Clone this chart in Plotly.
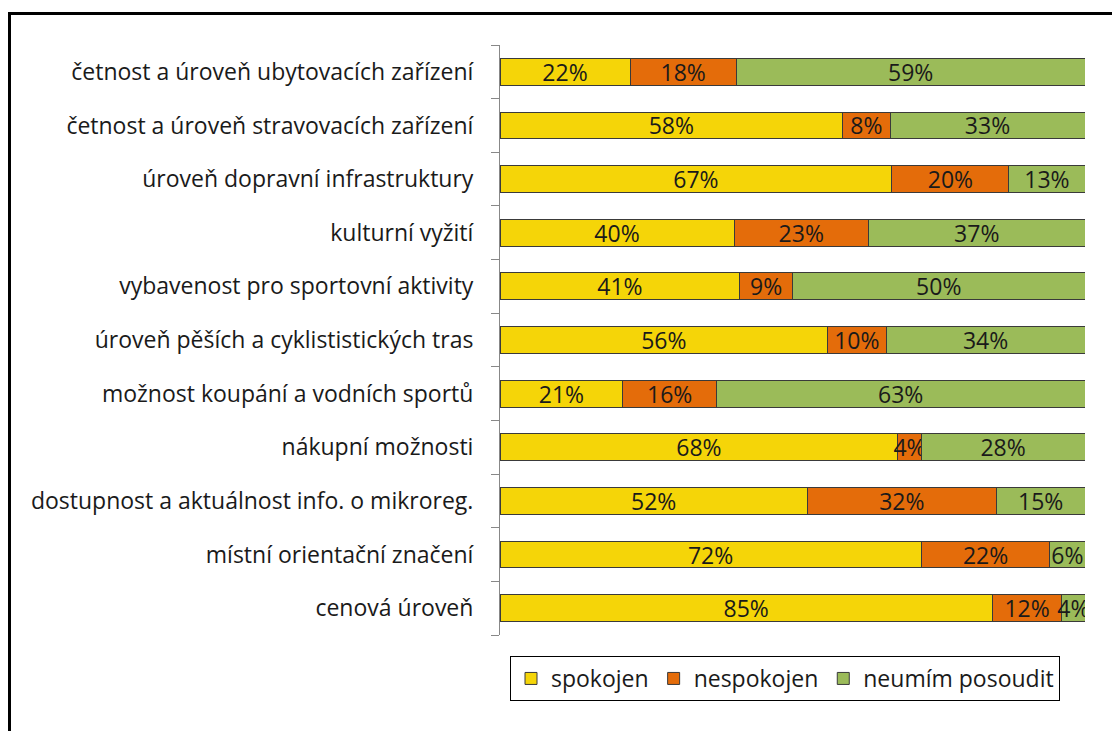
import plotly.graph_objects as go

categories = [
    "četnost a úroveň ubytovacích zařízení",
    "četnost a úroveň stravovacích zařízení",
    "úroveň dopravní infrastruktury",
    "kulturní vyžití",
    "vybavenost pro sportovní aktivity",
    "úroveň pěších a cyklististických tras",
    "možnost koupání a vodních sportů",
    "nákupní možnosti",
    "dostupnost a aktuálnost info. o mikroreg.",
    "místní orientační značení",
    "cenová úroveň",
]
spokojen = [22, 58, 67, 40, 41, 56, 21, 68, 52, 72, 85]
nespokojen = [18, 8, 20, 23, 9, 10, 16, 4, 32, 22, 12]
neumim = [59, 33, 13, 37, 50, 34, 63, 28, 15, 6, 4]

series = [
    ("spokojen", spokojen, "#F5D508"),
    ("nespokojen", nespokojen, "#E46C0A"),
    ("neumím posoudit", neumim, "#9BBB59"),
]

FONT = "Open Sans"
FS = 23
ypos = list(range(len(categories)))

# plot area in figure pixels (page has 8px body margin)
L, R, T, B = 492, 1077, 37, 627
W, H = 1120, 731
pw, ph = R - L, B - T

def px(x):
    return (x - L) / pw

def py(y):
    return (B - y) / ph

fig = go.Figure()
for name, vals, color in series:
    fig.add_trace(go.Bar(
        y=ypos, x=vals, name=name, orientation="h",
        marker=dict(color=color, line=dict(color="#3A3A3A", width=1)),
        text=[f"{v}%" for v in vals],
        textposition="inside", insidetextanchor="middle",
        constraintext="none", textangle=0,
        insidetextfont=dict(family=FONT, size=FS, color="#1a1a1a"),
        hoverinfo="skip",
    ))

fig.update_layout(
    barmode="stack", barnorm="percent", bargap=0.5,
    width=W, height=H,
    margin=dict(l=L, r=W - R, t=T, b=H - B),
    paper_bgcolor="white", plot_bgcolor="white",
    font=dict(family=FONT, size=FS, color="#1a1a1a"),
    showlegend=True,
    legend=dict(
        orientation="h", x=px(502), xanchor="left", y=py(648), yanchor="top",
        bordercolor="black", borderwidth=1,
        font=dict(family=FONT, size=FS, color="#1a1a1a"),
        traceorder="normal", itemwidth=30,
    ),
    xaxis=dict(visible=False, range=[0, 100], fixedrange=True),
    yaxis=dict(
        range=[len(categories) - 0.5, -0.5],
        tickmode="array", tickvals=ypos, ticktext=categories,
        ticks="", showline=True, linecolor="#888888", linewidth=1,
        showgrid=False, zeroline=False, ticklabelstandoff=21,
        minor=dict(tickmode="array",
                   tickvals=[i - 0.5 for i in range(len(categories) + 1)],
                   ticks="outside", ticklen=8, tickcolor="#888888", showgrid=False),
    ),
    shapes=[
        dict(type="line", xref="paper", yref="paper",
             x0=px(1.5), x1=px(1.5), y0=py(4), y1=py(760),
             line=dict(color="black", width=3)),
        dict(type="line", xref="paper", yref="paper",
             x0=px(0), x1=px(1140), y0=py(5.5), y1=py(5.5),
             line=dict(color="black", width=3)),
    ],
)

fig.write_html("out.html")
